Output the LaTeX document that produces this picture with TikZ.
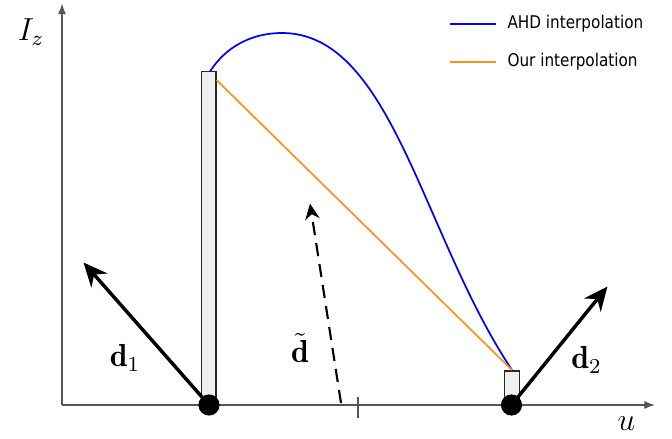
\documentclass[tikz,border=0pt]{standalone}
\usepackage{fontspec}
\usepackage{amsmath}
\usetikzlibrary{arrows.meta}
\newfontfamily\legendfont{DejaVu Sans}[FakeStretch=0.87]
\definecolor{ahdblue}{RGB}{0,0,255}
\definecolor{ourorange}{RGB}{255,146,30}
\definecolor{axisgray}{RGB}{85,85,85}

\begin{document}
\begin{tikzpicture}[x=0.662cm, y=0.662cm,
  axis/.style={draw=axisgray, line width=0.45pt, -{Latex[length=4pt,width=3pt]}},
  bar/.style={draw=black!85, fill=black!6, line width=0.45pt},
  pivot/.style={circle, fill=black, inner sep=0pt, minimum size=0.28cm},
  dir/.style={line width=1.3pt, -{Stealth[length=9pt,width=8pt]}},
  curve/.style={line width=0.65pt},
  lbl/.style={font=\large, inner sep=1pt},
  legend/.style={font=\legendfont\fontsize{6.6}{8}\selectfont, inner sep=0pt, anchor=west}]
  \useasboundingbox (-1.24,-0.66) rectangle (12.2,8.1);
  %% Axes
  \coordinate (O) at (0,0);
  \coordinate (xend) at (11.86,0);
  \coordinate (yend) at (0,8.03);
  \draw[axis] (O) -- (xend);
  \draw[axis] (O) -- (yend);
  \node[lbl] (Iz) at (-0.62,7.46) {$I_z$};
  \node[lbl] (u) at (11.29,-0.38) {$u$};
  \draw[axisgray, line width=0.45pt] (5.92,0.17) -- (5.92,-0.25);
  %% Bars
  \draw[bar] (2.79,0) rectangle (3.08,6.67);
  \draw[bar] (8.85,0) rectangle (9.15,0.68);
  %% Interpolations
  \coordinate (top1) at (2.96,6.67);
  \coordinate (edge1) at (3.09,6.50);
  \coordinate (peak) at (4.40,7.44);
  \coordinate (top2) at (9.00,0.70);
  \draw[curve, ahdblue] (top1) .. controls (3.26,7.14) and (3.76,7.44) .. (peak)
    .. controls (6.60,7.44) and (7.20,3.40) .. (top2);
  \draw[curve, ourorange] (edge1) -- (top2);
  %% Pivots and directions
  \node[pivot] (p1) at (2.94,0) {};
  \node[pivot] (p2) at (8.99,0) {};
  \coordinate (d1end) at (0.43,2.85);
  \coordinate (d2end) at (10.91,2.37);
  \draw[dir] (p1.center) -- (d1end);
  \draw[dir] (p2.center) -- (d2end);
  \node[lbl] (d1) at (1.26,0.94) {$\mathbf{d}_1$};
  \node[lbl] (d2) at (10.49,0.90) {$\mathbf{d}_2$};
  %% Mean direction
  \coordinate (dtstart) at (5.58,0.04);
  \coordinate (dtend) at (4.96,4.03);
  \draw[line width=0.8pt, dash pattern=on 5pt off 3pt, -{Stealth[length=6pt,width=5.5pt]}] (dtstart) -- (dtend);
  \node[lbl] (dt) at (4.76,1.14) {$\tilde{\mathbf{d}}$};
  %% Legend
  \node[legend] (ahdlabel) at (8.9,7.62) {AHD interpolation};
  \node[legend] (ourlabel) at (8.9,6.86) {Our interpolation};
  \coordinate (l1) at (7.76,7.62);
  \coordinate (l2) at (7.76,6.86);
  \draw[curve, ahdblue] (l1) -- ++(0.92,0);
  \draw[curve, ourorange] (l2) -- ++(0.92,0);
\end{tikzpicture}
\end{document}
